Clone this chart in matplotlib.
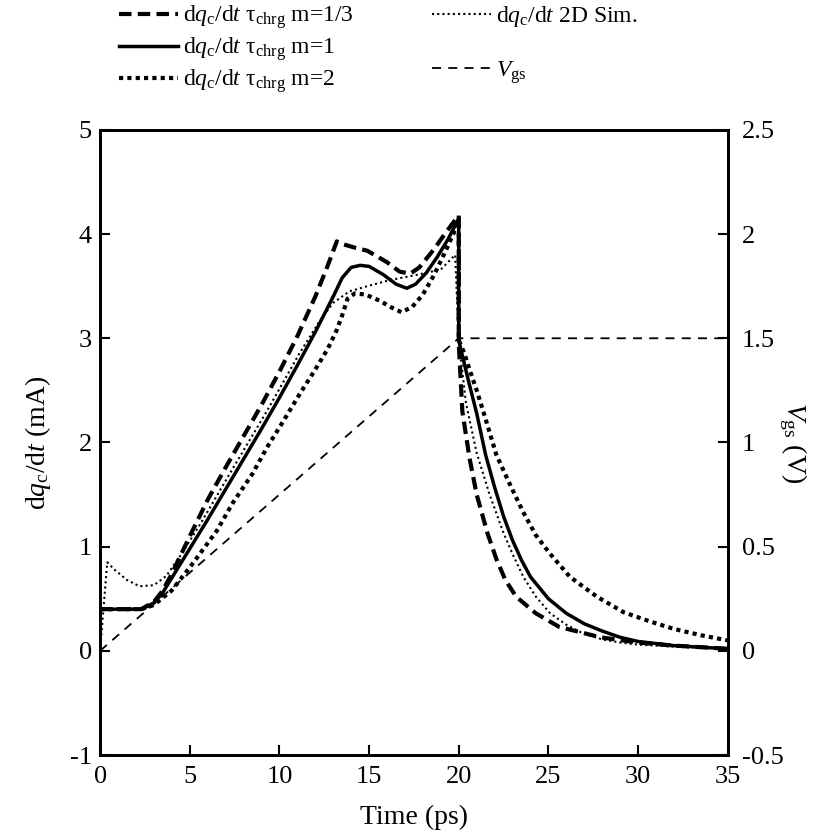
import matplotlib
matplotlib.use("Agg")
import matplotlib.pyplot as plt
from matplotlib.lines import Line2D

plt.rcParams['font.family'] = ['Liberation Serif', 'DejaVu Serif']
plt.rcParams['mathtext.fontset'] = 'custom'
plt.rcParams['mathtext.rm'] = 'Liberation Serif'
plt.rcParams['mathtext.it'] = 'Liberation Serif:italic'
plt.rcParams['axes.unicode_minus'] = False

# m = 1 (solid)
t_m1 = [0, 0, 2.3, 3.0, 3.5, 4.0, 5.0, 6.0, 7.0, 8.0, 9.0, 10.0, 11.0, 12.0, 13.0, 13.5,
        14.0, 14.5, 15.0, 15.8, 16.5, 17.1, 17.6, 18.2, 18.8, 19.4, 20.0, 20.0, 20.5, 21.0,
        21.5, 22.0, 22.5, 23.0, 23.5, 24.0, 25.0, 26.0, 27.0, 28.0, 29.0, 30.0, 31.0, 32.0,
        33.0, 35.0]
v_m1 = [-1, 0.4, 0.4, 0.46, 0.56, 0.70, 0.98, 1.26, 1.55, 1.84, 2.13, 2.43, 2.74, 3.06, 3.40, 3.58,
        3.68, 3.70, 3.69, 3.61, 3.52, 3.48, 3.52, 3.63, 3.78, 3.95, 4.15, 2.98, 2.62, 2.28,
        1.88, 1.57, 1.29, 1.06, 0.87, 0.71, 0.50, 0.36, 0.26, 0.19, 0.13, 0.09, 0.07, 0.05,
        0.04, 0.02]

# m = 1/3 (heavy dashed)
t_m13 = [0, 2.3, 3.0, 3.5, 4.0, 5.0, 6.0, 7.0, 8.0, 9.0, 10.0, 11.0, 12.0, 12.7, 13.2, 13.6,
         14.2, 14.9, 15.5, 16.0, 16.7, 17.3, 17.8, 18.6, 19.3, 20.0, 20.0, 20.2, 20.6, 21.0,
         21.6, 22.1, 22.6, 23.2, 24.3, 25.6, 27.9, 30.0, 32.0, 35.0]
v_m13 = [0.4, 0.4, 0.47, 0.58, 0.74, 1.10, 1.45, 1.76, 2.06, 2.36, 2.68, 3.02, 3.40, 3.70, 3.93, 3.90,
         3.87, 3.84, 3.78, 3.73, 3.64, 3.62, 3.68, 3.85, 4.02, 4.18, 2.95, 2.30, 1.85, 1.50,
         1.13, 0.88, 0.68, 0.52, 0.36, 0.23, 0.13, 0.08, 0.05, 0.02]

# m = 2 (heavy dotted)
t_m2 = [0, 2.3, 3.0, 4.0, 5.0, 5.6, 6.5, 7.4, 8.5, 9.3, 10.2, 11.15, 12.0, 12.7, 13.2, 13.5,
        13.8, 14.2, 14.8, 15.6, 16.2, 16.8, 17.4, 18.0, 18.6, 19.3, 20.0, 20.0, 20.3, 20.6,
        21.0, 21.4, 22.1, 22.9, 23.6, 24.3, 25.1, 26.2, 27.7, 29.2, 30.7, 32.0, 33.5, 35.0]
v_m2 = [0.4, 0.4, 0.44, 0.58, 0.80, 0.94, 1.15, 1.42, 1.70, 1.95, 2.20, 2.47, 2.70, 2.90, 3.08, 3.22,
        3.38, 3.43, 3.42, 3.36, 3.30, 3.25, 3.30, 3.42, 3.60, 3.85, 4.12, 2.98, 2.86, 2.70,
        2.50, 2.28, 1.88, 1.58, 1.33, 1.11, 0.93, 0.71, 0.52, 0.37, 0.28, 0.21, 0.15, 0.10]

# 2D simulation (thin dotted)
t_sim = [0, 0.4, 0.8, 1.5, 2.2, 3.0, 3.7, 4.5, 5.6, 7.4, 9.3, 11.1, 12.3, 13.0, 13.9, 14.9,
         16.2, 17.7, 19.0, 19.8, 20.0, 20.4, 21.0, 21.7, 22.5, 23.0, 23.6, 24.3, 25.1, 26.0,
         26.9, 28.0, 29.0, 30.0, 32.0, 35.0]
v_sim = [0.0, 0.85, 0.78, 0.68, 0.62, 0.63, 0.72, 0.92, 1.22, 1.75, 2.30, 2.85, 3.18, 3.34, 3.45, 3.50,
         3.56, 3.61, 3.66, 3.80, 2.98, 2.38, 1.90, 1.51, 1.13, 0.93, 0.71, 0.52, 0.36, 0.25,
         0.17, 0.11, 0.08, 0.06, 0.04, 0.02]

# gate voltage (right axis)
t_vgs = [0, 20, 35]
v_vgs = [0, 1.5, 1.5]

fig = plt.figure(figsize=(8.27, 8.38), dpi=100)
ax = fig.add_axes([0.121, 0.099, 0.759, 0.746])
ax2 = ax.twinx()

l13, = ax.plot(t_m13, v_m13, color='k', lw=3, linestyle=(0, (3, 1.5)))
l1, = ax.plot(t_m1, v_m1, color='k', lw=2.5, linestyle='-')
l2, = ax.plot(t_m2, v_m2, color='k', lw=3, linestyle=(0, (1, 1)))
lsim, = ax.plot(t_sim, v_sim, color='k', lw=1.5, linestyle=(0, (1, 1.5)))
lv, = ax2.plot(t_vgs, v_vgs, color='k', lw=1.3, linestyle=(0, (5, 4)))

ax.set_xlim(0, 35)
ax.set_ylim(-1, 5)
ax2.set_ylim(-0.5, 2.5)
ax.set_xticks(range(0, 36, 5))
ax.set_yticks(range(-1, 6))
ax2.set_yticks([-0.5, 0, 0.5, 1, 1.5, 2, 2.5])
ax2.set_yticklabels(['-0.5', '0', '0.5', '1', '1.5', '2', '2.5'])

for a in (ax, ax2):
    a.tick_params(direction='in', length=7, width=1.5, labelsize=19, pad=6)
    for s in a.spines.values():
        s.set_linewidth(2)
ax.tick_params(axis='x', pad=8)
ax2.tick_params(axis='y', pad=10)

ax.set_xlabel('Time (ps)', fontsize=20, labelpad=12)
ax.set_ylabel(r'd$q_{\rm c}$/d$t$ (mA)', fontsize=20, labelpad=12)
ax2.set_ylabel(r'$V_{\rm gs}$ (V)', fontsize=20, rotation=270, labelpad=18)

blank = Line2D([], [], linestyle='none')
handles = [l13, l1, l2, lsim, blank, lv]
labels = [r'd$q_{\rm c}$/d$t$ $\mathrm{\tau_{chrg}}$ m=1/3',
          r'd$q_{\rm c}$/d$t$ $\mathrm{\tau_{chrg}}$ m=1',
          r'd$q_{\rm c}$/d$t$ $\mathrm{\tau_{chrg}}$ m=2',
          r'd$q_{\rm c}$/d$t$ 2D Sim.',
          '',
          r'$V_{\rm gs}$']
fig.legend(handles, labels, ncol=2, loc='upper left', bbox_to_anchor=(0.13, 1.01),
           frameon=False, fontsize=17, handlelength=2.5, handletextpad=0.2,
           columnspacing=3.3, labelspacing=0.18, borderaxespad=0.1)

fig.savefig('out.png', dpi=100)
